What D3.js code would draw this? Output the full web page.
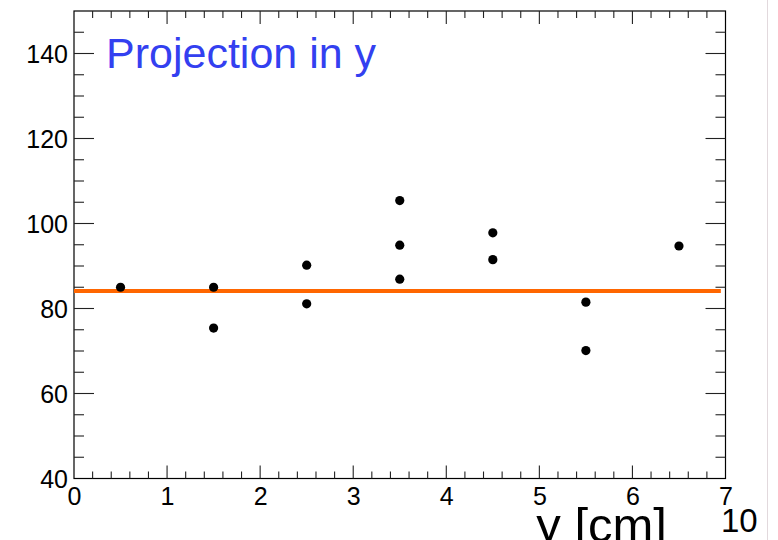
<!DOCTYPE html>
<html>
<head>
<meta charset="utf-8">
<script src="https://cdn.jsdelivr.net/npm/d3@7"></script>
<style>
html,body{margin:0;padding:0;background:#fff;}
svg{display:block;font-family:"Liberation Sans",Arial,Helvetica,sans-serif;}
</style>
</head>
<body>
<svg id="c" width="778" height="540"></svg>
<script>
// ---- data ----
const xValues = [0.5, 1.5, 1.5, 2.5, 2.5, 3.5, 3.5, 3.5, 4.5, 4.5, 5.5, 5.5, 6.5];
const yValues = [85.0, 85.0, 75.4, 90.2, 81.1, 105.4, 94.9, 86.9, 97.8, 91.5, 81.5, 70.1, 94.7];
const fitValue = 84.1;
const fitRange = [0, 6.95];
const xDomain = [0, 7];
const yDomain = [40, 150];
const xTickLabels = [0, 1, 2, 3, 4, 5, 6, 7];
const yTickLabels = [40, 60, 80, 100, 120, 140];
const titleText = "Projection in y";
const xAxisTitle = "y [cm]";
const cornerText = "10";

// ---- layout ----
const svg = d3.select("#c");
const L = 74, R = 725.5, T = 11, B = 478.5;
const x = d3.scaleLinear().domain(xDomain).range([L, R]);
const y = d3.scaleLinear().domain(yDomain).range([B, T]);

// right-side faint border line
svg.append("line").attr("x1", 767.5).attr("x2", 767.5).attr("y1", 0).attr("y2", 540)
  .attr("stroke", "#e2d9dd").attr("stroke-width", 1);

// frame
svg.append("rect").attr("x", L).attr("y", T).attr("width", R - L).attr("height", B - T)
  .attr("fill", "none").attr("stroke", "#000").attr("stroke-width", 1.2);

// ticks
const g = svg.append("g").attr("stroke", "#222").attr("stroke-width", 1.1);
const xMinor = d3.range(0, 35).map(i => i * 0.2).filter(v => v > 0 && v < 7);
xMinor.forEach(v => {
  const major = Math.abs(v - Math.round(v)) < 1e-6;
  const len = major ? 13 : 7;
  g.append("line").attr("x1", x(v)).attr("x2", x(v)).attr("y1", B).attr("y2", B - len);
  g.append("line").attr("x1", x(v)).attr("x2", x(v)).attr("y1", T).attr("y2", T + len);
});
const yMinor = d3.range(45, 150, 5);
yMinor.forEach(v => {
  const major = v % 20 === 0;
  const len = major ? 20 : 10;
  g.append("line").attr("x1", L).attr("x2", L + len).attr("y1", y(v)).attr("y2", y(v));
  g.append("line").attr("x1", R).attr("x2", R - len).attr("y1", y(v)).attr("y2", y(v));
});

// axes labels via d3 axes (lines hidden)
const xAxis = d3.axisBottom(x).tickValues(xTickLabels).tickSize(0).tickPadding(0).tickFormat(d3.format("d"));
const xg = svg.append("g").attr("transform", `translate(0,${B})`).call(xAxis);
xg.select(".domain").remove();
xg.selectAll("text").attr("font-size", 25).attr("fill", "#000")
  .attr("font-family", "'Liberation Sans',Arial,sans-serif").attr("dy", "1.05em");

const yAxis = d3.axisLeft(y).tickValues(yTickLabels).tickSize(0).tickPadding(6).tickFormat(d3.format("d"));
const yg = svg.append("g").attr("transform", `translate(${L},0)`).call(yAxis);
yg.select(".domain").remove();
yg.selectAll("text").attr("font-size", 25).attr("fill", "#000")
  .attr("font-family", "'Liberation Sans',Arial,sans-serif").attr("dy", "0.36em");

// fit line
svg.append("line")
  .attr("x1", x(fitRange[0])).attr("x2", x(fitRange[1]))
  .attr("y1", y(fitValue)).attr("y2", y(fitValue))
  .attr("stroke", "#ff6600").attr("stroke-width", 4);

// points
svg.append("g").selectAll("circle").data(xValues.map((v, i) => [v, yValues[i]]))
  .join("circle")
  .attr("cx", d => x(d[0])).attr("cy", d => y(d[1])).attr("r", 4.6).attr("fill", "#000");

// title
svg.append("text").attr("x", 106).attr("y", 68).attr("font-size", 43)
  .attr("fill", "#3340f0").text(titleText);

// x axis title (cut off at bottom)
svg.append("text").attr("x", 667).attr("y", 542).attr("text-anchor", "end")
  .attr("font-size", 49).attr("fill", "#000").text(xAxisTitle);

// corner label
svg.append("text").attr("x", 721).attr("y", 532).attr("font-size", 33)
  .attr("fill", "#000").text(cornerText);
</script>
</body>
</html>
